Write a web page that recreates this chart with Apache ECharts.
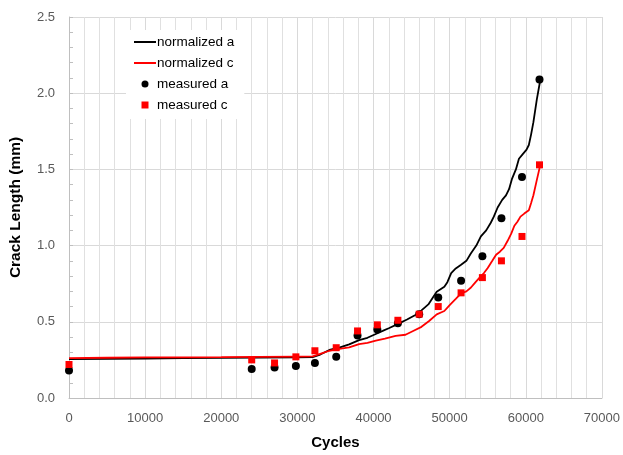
<!DOCTYPE html>
<html>
<head>
<meta charset="utf-8">
<script src="https://cdn.jsdelivr.net/npm/echarts@6/dist/echarts.min.js"></script>
<style>
  html, body {margin: 0; padding: 0; background: #fff;}
  #main {width: 623px; height: 455px;}
</style>
</head>
<body>
<div id="main"></div>
<script>
// normalized curves (cycles, mm)
var normA = [[0,0.255],[5000,0.257],[10000,0.259],[15000,0.261],[20000,0.263],[25000,0.265],[30000,0.267],[32000,0.268],
    [33000,0.285],[34200,0.315],[35500,0.33],[36800,0.352],[38100,0.38],[39200,0.395],[40300,0.42],[41200,0.44],
    [42000,0.458],[43300,0.488],[44400,0.515],[45500,0.545],[46300,0.575],[47200,0.614],[47800,0.66],[48300,0.697],
    [49300,0.73],[49700,0.76],[50200,0.82],[50800,0.85],[51500,0.874],[52200,0.90],[52800,0.95],[53500,1.0],
    [54100,1.06],[54800,1.10],[55400,1.15],[55800,1.19],[56300,1.25],[56900,1.30],[57400,1.33],[57800,1.37],
    [58200,1.44],[58700,1.50],[59100,1.57],[59600,1.60],[60100,1.63],[60400,1.66],[60700,1.73],[61000,1.81],
    [61450,1.96],[61880,2.08]];
var normC = [[0,0.262],[5000,0.264],[10000,0.266],[15000,0.267],[20000,0.268],[25000,0.270],[30000,0.272],[32000,0.273],
    [33000,0.29],[34200,0.31],[35500,0.322],[36800,0.332],[38100,0.354],[39200,0.362],[40300,0.376],[41500,0.39],
    [42900,0.408],[44200,0.415],[45200,0.44],[46300,0.467],[47300,0.505],[48300,0.549],[49300,0.571],[50000,0.61],
    [50800,0.65],[51500,0.686],[52200,0.70],[52800,0.725],[53400,0.76],[53900,0.788],[54500,0.82],[55000,0.853],
    [55600,0.90],[56100,0.94],[56600,0.96],[57100,0.985],[57600,1.03],[58100,1.08],[58500,1.13],[58900,1.157],
    [59300,1.19],[59800,1.21],[60400,1.232],[60700,1.28],[61000,1.33],[61400,1.42],[61880,1.525]];
// measured points
var measCycles = [0, 24000, 27000, 29800, 32300, 35100, 37900, 40500, 43200, 46000, 48500, 51500, 54300, 56800, 59500, 61800];
var measA = [0.18, 0.19, 0.20, 0.21, 0.23, 0.27, 0.41, 0.45, 0.49, 0.55, 0.66, 0.77, 0.93, 1.18, 1.45, 2.09];
var measC = [0.22, 0.25, 0.23, 0.27, 0.31, 0.33, 0.44, 0.48, 0.51, 0.55, 0.60, 0.69, 0.79, 0.90, 1.06, 1.53];
var names = ['normalized a', 'normalized c', 'measured a', 'measured c'];

function pairs(xs, ys) {
    var out = [];
    for (var i = 0; i < xs.length; i++) out.push([xs[i], ys[i]]);
    return out;
}

var font = 'Liberation Sans, Arial, sans-serif';
var gridColor = '#d9d9d9';
var lineIcon = 'path://M0,0 L22,0 L22,2 L0,2 Z';
var squareIcon = 'path://M0,0 L1,0 L1,1 L0,1 Z';

var option = {
    animation: false,
    backgroundColor: '#fff',
    textStyle: {fontFamily: font},
    grid: {left: 66, top: 17, width: 540, height: 384, containLabel: false},
    legend: {
        orient: 'vertical',
        left: 126, top: 30,
        backgroundColor: '#fff',
        padding: [5, 10, 7, 8],
        itemWidth: 22, itemHeight: 7, itemGap: 7,
        symbolKeepAspect: true,
        textStyle: {fontSize: 13.5, color: '#000', fontFamily: font, padding: [0, 0, 0, -4]},
        data: [
            {name: names[0], icon: lineIcon},
            {name: names[1], icon: lineIcon},
            {name: names[2], icon: 'circle'},
            {name: names[3], icon: squareIcon}
        ]
    },
    xAxis: {
        type: 'value', min: 0, max: 70000, interval: 10000,
        name: 'Cycles', nameLocation: 'middle', nameGap: 37,
        nameTextStyle: {fontSize: 15, fontWeight: 'bold', color: '#000', fontFamily: font},
        axisLine: {lineStyle: {color: '#bfbfbf'}},
        axisTick: {show: false},
        axisLabel: {fontSize: 13, color: '#595959', margin: 14, formatter: function (v) { return String(v); }},
        splitLine: {lineStyle: {color: gridColor}},
        minorTick: {show: false, splitNumber: 5},
        minorSplitLine: {show: true, lineStyle: {color: '#e0e0e0'}}
    },
    yAxis: {
        type: 'value', min: 0, max: 2.5, interval: 0.5,
        name: 'Crack Length (mm)', nameLocation: 'middle', nameGap: 45,
        nameTextStyle: {fontSize: 15.5, fontWeight: 'bold', color: '#000', fontFamily: font},
        axisLine: {show: true, lineStyle: {color: '#bfbfbf'}},
        axisTick: {show: true, inside: true, length: 4, lineStyle: {color: '#bfbfbf'}},
        minorTick: {show: true, splitNumber: 5, length: 4, lineStyle: {color: '#bfbfbf'}},
        axisLabel: {fontSize: 13, color: '#595959', margin: 14, formatter: function (v) { return v.toFixed(1); }},
        splitLine: {lineStyle: {color: gridColor}}
    },
    series: [
        {name: names[0], type: 'line', data: normA, showSymbol: false, symbol: 'none',
            lineStyle: {color: '#000', width: 1.8}, itemStyle: {color: '#000'}, z: 2},
        {name: names[1], type: 'line', data: normC, showSymbol: false, symbol: 'none',
            lineStyle: {color: '#ff0000', width: 1.8}, itemStyle: {color: '#ff0000'}, z: 3},
        {name: names[2], type: 'scatter', data: pairs(measCycles, measA), symbol: 'circle', symbolSize: 8,
            itemStyle: {color: '#000', opacity: 1}, z: 4},
        {name: names[3], type: 'scatter', data: pairs(measCycles, measC), symbol: 'rect', symbolSize: 7,
            itemStyle: {color: '#ff0000', opacity: 1}, z: 5}
    ]
};

var myChart = echarts.init(document.getElementById('main'));
myChart.setOption(option);
</script>
</body>
</html>
